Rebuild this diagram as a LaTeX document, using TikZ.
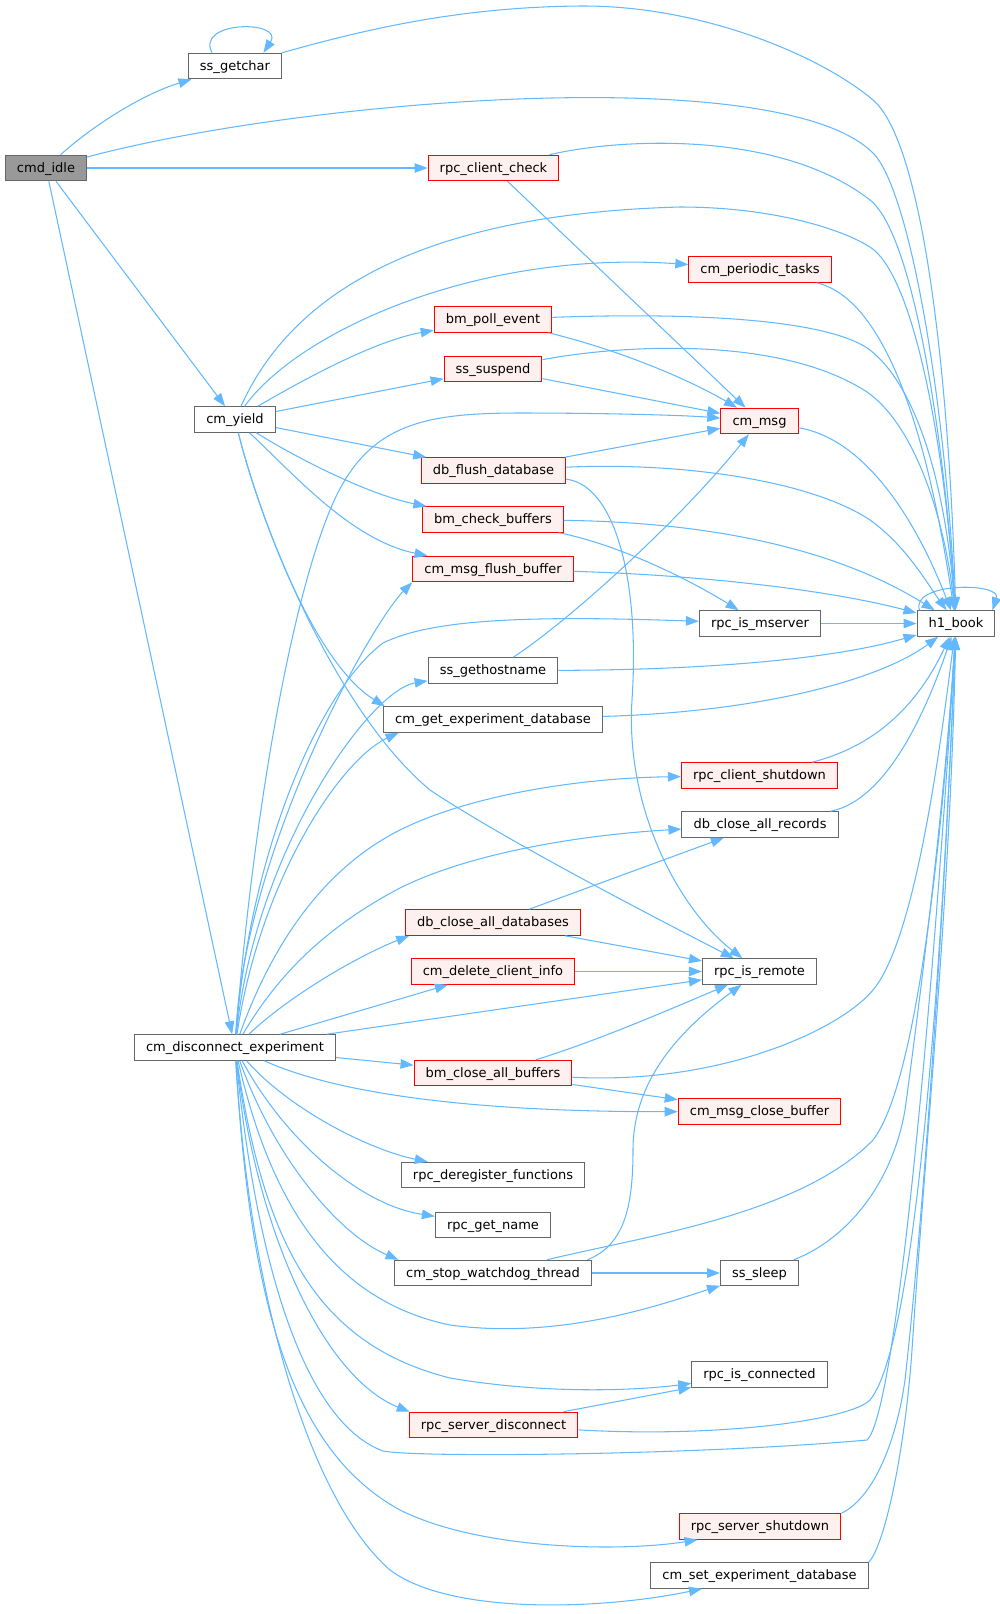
\documentclass[tikz,border=0pt]{standalone}
\usepackage{fontspec}
\setmainfont{DejaVu Sans}
\usetikzlibrary{arrows.meta}
\definecolor{edgeblue}{HTML}{63B8FF}
\definecolor{nodered}{HTML}{FF0000}
\definecolor{fillred}{HTML}{FFF0F0}
\definecolor{bordergray}{HTML}{666666}
\definecolor{rootgray}{HTML}{999999}
\tikzset{fn/.style={rectangle,draw=bordergray,fill=white,line width=0.6pt,minimum height=0.51cm,inner xsep=6.6pt,inner ysep=0pt,text height=0.75em,text depth=0.25em,font=\fontsize{7.4}{9}\selectfont},
  >={Triangle[length=0.26cm,width=0.19cm]}}

\begin{document}
\begin{tikzpicture}[x=0.02cm,y=-0.02cm]
	\useasboundingbox (0,0) rectangle (1000,1614);
	\begin{scope}[every node/.style={fn,fill=rootgray}]
		\node (idle) at (46,168) {cmd\_idle};
	\end{scope}
	\begin{scope}[every node/.style={fn}]
		\node (getchar) at (235,66) {ss\_getchar};
		\node (yield) at (235,419.5) {cm\_yield};
		\node (disconnect) at (235,1047.5) {cm\_disconnect\_experiment};
		\node (hostname) at (493,670.5) {ss\_gethostname};
		\node (getexpdb) at (493,719.5) {cm\_get\_experiment\_database};
		\node (dereg) at (493,1175) {rpc\_deregister\_functions};
		\node (getname) at (493,1225) {rpc\_get\_name};
		\node (stopwd) at (493,1273) {cm\_stop\_watchdog\_thread};
		\node (mserver) at (760,623.5) {rpc\_is\_mserver};
		\node (closerec) at (760,824.5) {db\_close\_all\_records};
		\node (isremote) at (759.5,971.5) {rpc\_is\_remote};
		\node (sleep) at (759.5,1273) {ss\_sleep};
		\node (isconn) at (759.5,1374.5) {rpc\_is\_connected};
		\node (setexpdb) at (759.5,1575.5) {cm\_set\_experiment\_database};
		\node (hbook) at (956,623.5) {h1\_book};
	\end{scope}
	\begin{scope}[every node/.style={fn,draw=nodered,fill=fillred}]
		\node (clientcheck) at (493.5,168) {rpc\_client\_check};
		\node (pollevent) at (493,319.5) {bm\_poll\_event};
		\node (suspend) at (493,369) {ss\_suspend};
		\node (flushdb) at (493.5,470.5) {db\_flush\_database};
		\node (checkbuf) at (493,519.5) {bm\_check\_buffers};
		\node (flushbuf) at (493,569) {cm\_msg\_flush\_buffer};
		\node (closedbs) at (493,922.5) {db\_close\_all\_databases};
		\node (delclient) at (493,971.5) {cm\_delete\_client\_info};
		\node (closebuf) at (493,1073) {bm\_close\_all\_buffers};
		\node (srvdisc) at (493.5,1425) {rpc\_server\_disconnect};
		\node (periodic) at (760,269.5) {cm\_periodic\_tasks};
		\node (cmmsg) at (759.5,421) {cm\_msg};
		\node (clientshut) at (759.5,775.5) {rpc\_client\_shutdown};
		\node (closemsgbuf) at (759.5,1111.5) {cm\_msg\_close\_buffer};
		\node (srvshut) at (760,1526.5) {rpc\_server\_shutdown};
	\end{scope}

	\begin{scope}[->,edgeblue,line width=0.6pt]
		\draw (idle) .. controls (90,128) and (140,95) .. (getchar);
		\draw (idle) .. controls (300,100) and (780,60) .. (873,153) .. controls (910,190) and (945,400) .. (hbook);
		\draw (idle) -- (clientcheck);
		\draw (idle) -- (yield);
		\draw (idle) -- (disconnect);

		\draw (getchar.150) .. controls (195,20) and (285,20) .. (getchar.25);
		\draw (getchar.north east) .. controls (380,25) and (470,7) .. (580,6) .. controls (700,5) and (820,55) .. (873,100) .. controls (926,145) and (950,400) .. (hbook);

		\draw (clientcheck) .. controls (620,138) and (780,130) .. (870,200) .. controls (915,235) and (945,450) .. (hbook);
		\draw (clientcheck) -- (cmmsg);
		\draw (periodic) .. controls (890,300) and (930,450) .. (hbook);

		\draw (yield) .. controls (280,320) and (380,215) .. (680,207) .. controls (770,207) and (840,228) .. (870,247) .. controls (915,276) and (945,450) .. (hbook);
		\draw (yield) .. controls (300,330) and (480,250) .. (periodic);
		\draw (yield) .. controls (320,370) and (380,340) .. (pollevent);
		\draw (yield) -- (suspend);
		\draw (yield) -- (flushdb);
		\draw (yield) .. controls (300,460) and (370,495) .. (checkbuf);
		\draw (yield) .. controls (290,470) and (350,540) .. (flushbuf);
		\draw (yield) .. controls (255,500) and (310,660) .. (getexpdb.173);
		\draw (yield) .. controls (265,540) and (340,715) .. (430,790) .. controls (505,840) and (650,915) .. (isremote);

		\draw (pollevent) .. controls (700,312) and (830,320) .. (870,350) .. controls (915,385) and (945,480) .. (hbook);
		\draw (pollevent) .. controls (620,350) and (690,380) .. (cmmsg);
		\draw (suspend) .. controls (620,345) and (780,335) .. (867,392) .. controls (915,425) and (945,520) .. (hbook);
		\draw (suspend) -- (cmmsg);
		\draw (flushdb) -- (cmmsg);
		\draw (flushdb) .. controls (680,462) and (810,480) .. (870,520) .. controls (905,545) and (925,580) .. (hbook);
		\draw (flushdb) .. controls (615,485) and (640,580) .. (632,700) .. controls (625,810) and (680,910) .. (isremote);
		\draw (checkbuf) .. controls (700,522) and (830,545) .. (hbook);
		\draw (checkbuf) .. controls (620,545) and (690,580) .. (mserver);
		\draw (flushbuf) .. controls (700,575) and (830,590) .. (hbook);
		\draw (cmmsg) .. controls (870,440) and (920,530) .. (hbook);
		\draw (mserver) -- (hbook);
		\draw (hostname) .. controls (570,620) and (680,520) .. (cmmsg);
		\draw (hostname) .. controls (700,670) and (830,660) .. (hbook);
		\draw (getexpdb) .. controls (760,712) and (880,680) .. (hbook);
		\draw (clientshut) .. controls (880,745) and (920,700) .. (hbook);
		\draw (closerec) .. controls (890,800) and (930,700) .. (hbook);
		\draw (closedbs) -- (closerec);
		\draw (closedbs) -- (isremote);
		\draw (delclient) -- (isremote);
		\draw (closebuf) .. controls (600,1040) and (680,1005) .. (isremote);
		\draw (closebuf) .. controls (720,1085) and (840,1030) .. (873,990) .. controls (915,940) and (940,750) .. (hbook);
		\draw (closebuf) -- (closemsgbuf);
		\draw (stopwd.8) .. controls (625,1245) and (633,1205) .. (633,1150) .. controls (633,1080) and (680,1030) .. (isremote);
		\draw (stopwd) .. controls (640,1237) and (800,1215) .. (873,1140) .. controls (920,1080) and (945,800) .. (hbook);
		\draw (stopwd) -- (sleep);
		\draw (sleep) .. controls (850,1238) and (893,1180) .. (905,1110) .. controls (920,1000) and (945,800) .. (hbook);
		\draw (srvdisc) -- (isconn);
		\draw (srvdisc) .. controls (720,1438) and (850,1420) .. (870,1400) .. controls (920,1340) and (945,900) .. (hbook);
		\draw (srvshut.north east) .. controls (870,1500) and (895,1450) .. (905,1380) .. controls (925,1200) and (945,900) .. (hbook);
		\draw (setexpdb.north east) .. controls (885,1545) and (905,1450) .. (912,1350) .. controls (925,1150) and (950,900) .. (hbook);
		\draw (hbook.160) .. controls (910,582) and (1002,582) .. (hbook.20);

		\draw (disconnect) .. controls (250,850) and (285,620) .. (330,510) .. controls (365,425) and (420,413) .. (520,413) .. controls (600,413) and (680,415) .. (cmmsg);
		\draw (disconnect) .. controls (245,850) and (370,625) .. (flushbuf.south west);
		\draw (disconnect) .. controls (250,850) and (320,690) .. (383,643) .. controls (430,620) and (520,615) .. (mserver);
		\draw (disconnect) .. controls (255,850) and (370,690) .. (hostname);
		\draw (disconnect) .. controls (260,880) and (340,760) .. (getexpdb.188);
		\draw (disconnect) .. controls (270,950) and (320,870) .. (400,830) .. controls (470,795) and (580,778) .. (clientshut);
		\draw (disconnect) .. controls (275,980) and (320,930) .. (400,888) .. controls (470,853) and (580,835) .. (closerec);
		\draw (disconnect) .. controls (290,995) and (360,955) .. (closedbs.189);
		\draw (disconnect) -- (delclient);
		\draw (disconnect) -- (isremote);
		\draw (disconnect) -- (closebuf);
		\draw (disconnect) .. controls (340,1095) and (480,1112) .. (closemsgbuf);
		\draw (disconnect) .. controls (290,1110) and (370,1150) .. (dereg);
		\draw (disconnect) .. controls (285,1140) and (360,1205) .. (getname);
		\draw (disconnect) .. controls (275,1160) and (340,1235) .. (stopwd.172);
		\draw (disconnect) .. controls (270,1200) and (330,1300) .. (450,1325) .. controls (560,1340) and (660,1305) .. (sleep);
		\draw (disconnect) .. controls (265,1250) and (320,1345) .. (450,1378) .. controls (550,1395) and (640,1390) .. (isconn);
		\draw (disconnect) .. controls (260,1250) and (330,1380) .. (srvdisc.171);
		\draw (disconnect) .. controls (255,1250) and (300,1420) .. (383,1451) .. controls (420,1458) and (700,1455) .. (867,1440) .. controls (900,1410) and (940,900) .. (hbook);
		\draw (disconnect) .. controls (250,1300) and (290,1450) .. (400,1510) .. controls (480,1550) and (620,1552) .. (srvshut.192);
		\draw (disconnect) .. controls (250,1300) and (310,1500) .. (390,1570) .. controls (450,1615) and (600,1610) .. (setexpdb.193);
	\end{scope}
\end{tikzpicture}
\end{document}
